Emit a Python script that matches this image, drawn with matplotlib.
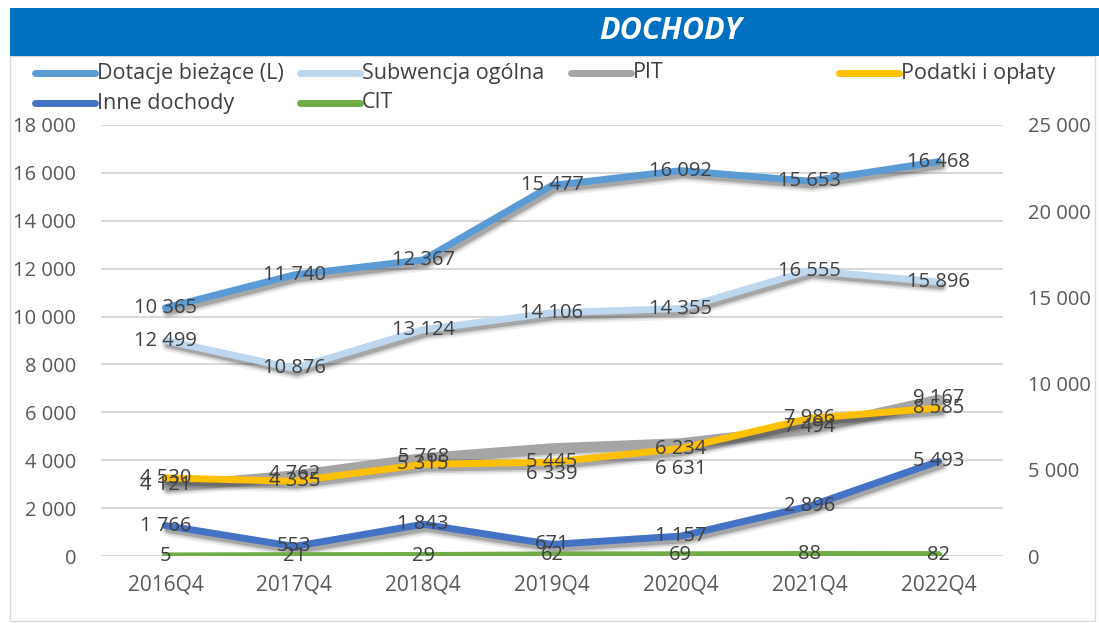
import matplotlib
matplotlib.use("Agg")
import matplotlib.pyplot as plt
import matplotlib.patheffects as pe
from matplotlib.lines import Line2D
from matplotlib.patches import Rectangle

plt.rcParams['font.family'] = ['Open Sans', 'DejaVu Sans']

# dane
kwartaly = ['2016Q4', '2017Q4', '2018Q4', '2019Q4', '2020Q4', '2021Q4', '2022Q4']
dotacje = [10365, 11740, 12367, 15477, 16092, 15653, 16468]       # lewa oś
subwencja = [12499, 10876, 13124, 14106, 14355, 16555, 15896]     # prawa oś
pit = [4121, 4762, 5768, 6339, 6631, 7494, 9167]
podatki = [4530, 4335, 5315, 5445, 6234, 7986, 8585]
inne = [1766, 553, 1843, 671, 1157, 2896, 5493]
cit = [5, 21, 29, 62, 69, 88, 82]

lewe_ticki = [0, 2000, 4000, 6000, 8000, 10000, 12000, 14000, 16000, 18000]
prawe_ticki = [0, 5000, 10000, 15000, 20000, 25000]

KOLORY = {
    'Dotacje bieżące (L)': '#5B9BD5',
    'Subwencja ogólna': '#BDD7EE',
    'PIT': '#A5A5A5',
    'Podatki i opłaty': '#FFC000',
    'Inne dochody': '#4472C4',
    'CIT': '#70AD47',
}
TXT = '#404040'
TICK = '#595959'
FS = 14.5

# etykiety PIT przesunięte ręcznie w dół (w punktach), jak w oryginale
przesuniecie_pit = [0, 0, 0, -20, -20, 0, 0]


def fmt(v):
    return f"{v:,}".replace(',', ' ')


W, H = 1099, 623
fig = plt.figure(figsize=(W / 100, H / 100), dpi=100)

# ramka i pasek tytułu
fig.patches.append(Rectangle((10 / W, 0.003), 1085 / W, 1 - 58 / H, transform=fig.transFigure,
                             fill=False, edgecolor='#D9D9D9', lw=1))
fig.patches.append(Rectangle((10 / W, 1 - 56 / H), 1 - 10 / W, 48 / H, transform=fig.transFigure,
                             facecolor='#0070C0', edgecolor='none'))
fig.text(671 / W, 1 - 31 / H, 'DOCHODY', color='white', fontsize=22, fontweight='bold',
         fontstyle='italic', ha='center', va='center')

left, right = 101 / W, 1003 / W
bottom, top = 1 - 556 / H, 1 - 125 / H
ax = fig.add_axes([left, bottom, right - left, top - bottom])
ax2 = ax.twinx()

x = list(range(len(kwartaly)))
# rozmyty cień pod liniami
cien = [
    pe.SimpleLineShadow(offset=(2, -3), shadow_color='black', alpha=0.07, linewidth=10),
    pe.SimpleLineShadow(offset=(2, -3), shadow_color='black', alpha=0.12, linewidth=7),
    pe.SimpleLineShadow(offset=(2, -3), shadow_color='black', alpha=0.2, linewidth=4.5),
    pe.Normal(),
]

ax.plot(x, dotacje, color=KOLORY['Dotacje bieżące (L)'], lw=5, solid_capstyle='round',
        path_effects=cien, zorder=3)
seria_prawa = [
    ('Subwencja ogólna', subwencja),
    ('PIT', pit),
    ('Podatki i opłaty', podatki),
    ('Inne dochody', inne),
    ('CIT', cit),
]
for nazwa, vals in seria_prawa:
    ax2.plot(x, vals, color=KOLORY[nazwa], lw=5, solid_capstyle='round',
             path_effects=cien, zorder=3)

# etykiety danych
for xi, v in zip(x, dotacje):
    ax.text(xi, v, fmt(v), ha='center', va='center', fontsize=FS, color=TXT, zorder=10)
for nazwa, vals in seria_prawa:
    for i, (xi, v) in enumerate(zip(x, vals)):
        dy = przesuniecie_pit[i] if nazwa == 'PIT' else 0
        ax2.annotate(fmt(v), (xi, v), xytext=(0, dy), textcoords='offset points',
                     ha='center', va='center', fontsize=FS, color=TXT, zorder=10)

ax.set_xlim(-0.5, len(kwartaly) - 0.5)
ax.set_ylim(0, 18000)
ax2.set_ylim(0, 25000)
ax.set_yticks(lewe_ticki)
ax.set_yticklabels([fmt(t) for t in lewe_ticki])
ax2.set_yticks(prawe_ticki)
ax2.set_yticklabels([fmt(t) for t in prawe_ticki])
ax.set_xticks(x)
ax.set_xticklabels(kwartaly)

for a in (ax, ax2):
    for s in a.spines.values():
        s.set_visible(False)
    a.tick_params(length=0, labelsize=FS, labelcolor=TICK)
ax.tick_params(axis='y', pad=18)
ax2.tick_params(axis='y', pad=18)
ax.tick_params(axis='x', pad=13, labelsize=15)
ax.grid(axis='y', color='#D9D9D9', lw=1.5)
ax.set_axisbelow(True)

# legenda
legenda = [
    ('Dotacje bieżące (L)', 35, 73),
    ('Subwencja ogólna', 300, 73),
    ('PIT', 571, 73),
    ('Podatki i opłaty', 839, 73),
    ('Inne dochody', 35, 103),
    ('CIT', 300, 103),
]
for nazwa, lx, ly in legenda:
    yy = 1 - ly / H
    fig.lines.append(Line2D([lx / W, (lx + 60) / W], [yy, yy], transform=fig.transFigure,
                            color=KOLORY[nazwa], lw=5, solid_capstyle='round'))
    fig.text((lx + 62) / W, yy, nazwa, fontsize=15.5, color=TXT, ha='left', va='center')

fig.savefig('out.png', dpi=100)
